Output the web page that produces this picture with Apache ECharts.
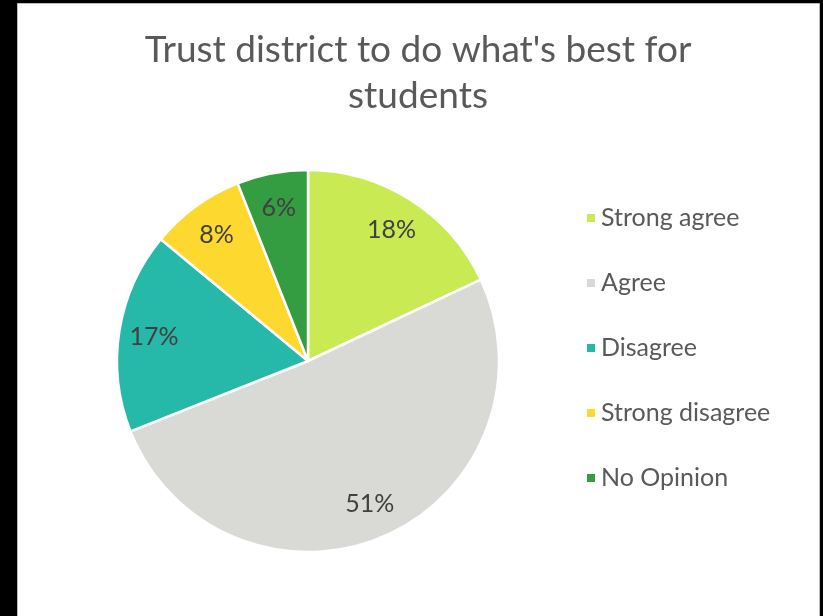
<!DOCTYPE html>
<html>
<head>
<meta charset="utf-8">
<script src="https://cdn.jsdelivr.net/npm/echarts@6/dist/echarts.min.js"></script>
<style>
  html, body { margin: 0; padding: 0; background: #000; }
  #chart { width: 823px; height: 616px; }
</style>
</head>
<body>
<div id="chart"></div>
<script>
// Survey responses: "Trust district to do what's best for students"
const categories = ['Strong agree', 'Agree', 'Disagree', 'Strong disagree', 'No Opinion'];
const shares = [18, 51, 17, 8, 6];
const sliceColors = ['#C9EA52', '#D9D9D5', '#26B8A8', '#FDD82F', '#349C41'];
const titleText = "Trust district to do what's best for\nstudents";

const pieData = categories.map((name, i) => ({
  name: name,
  value: shares[i],
  itemStyle: { color: sliceColors[i] }
}));

const center = [308, 361];
const outerR = 191;

const chart = echarts.init(document.getElementById('chart'), null, { renderer: 'canvas' });
chart.setOption({
  backgroundColor: '#000',
  animation: false,
  graphic: [{
    type: 'rect',
    z: -10,
    shape: { x: 17.5, y: 3.5, width: 802, height: 640 },
    style: { fill: '#fff', stroke: '#bdbdbd', lineWidth: 1 }
  }],
  title: {
    text: titleText,
    left: 413,
    top: 22,
    textAlign: 'center',
    textStyle: {
      fontFamily: 'Lato',
      fontWeight: 'normal',
      fontSize: 37,
      lineHeight: 46,
      color: '#595959'
    }
  },
  legend: {
    orient: 'vertical',
    left: 580,
    top: 200,
    itemWidth: 10,
    itemHeight: 10,
    itemGap: 39,
    icon: 'rect',
    data: categories,
    textStyle: {
      fontFamily: 'Lato',
      fontSize: 25,
      lineHeight: 26,
      color: '#595959',
      padding: [0, 0, 0, 0]
    }
  },
  series: [
    {
      type: 'pie',
      center: center,
      radius: outerR,
      startAngle: 90,
      clockwise: true,
      data: pieData,
      itemStyle: { borderColor: '#fff', borderWidth: 2.5 },
      label: { show: false },
      labelLine: { show: false },
      emphasis: { disabled: true }
    },
    {
      // percentage labels placed toward the rim of each slice
      type: 'pie',
      center: center,
      radius: [outerR * 0.6, outerR],
      startAngle: 90,
      clockwise: true,
      silent: true,
      legendHoverLink: false,
      data: pieData.map(d => ({ name: d.name, value: d.value })),
      itemStyle: { color: 'rgba(0,0,0,0)', borderWidth: 0 },
      label: {
        show: true,
        position: 'inside',
        formatter: p => p.value + '%',
        fontFamily: 'Lato',
        fontSize: 25,
        color: '#404040'
      },
      labelLine: { show: false },
      emphasis: { disabled: true }
    }
  ]
});
</script>
</body>
</html>
